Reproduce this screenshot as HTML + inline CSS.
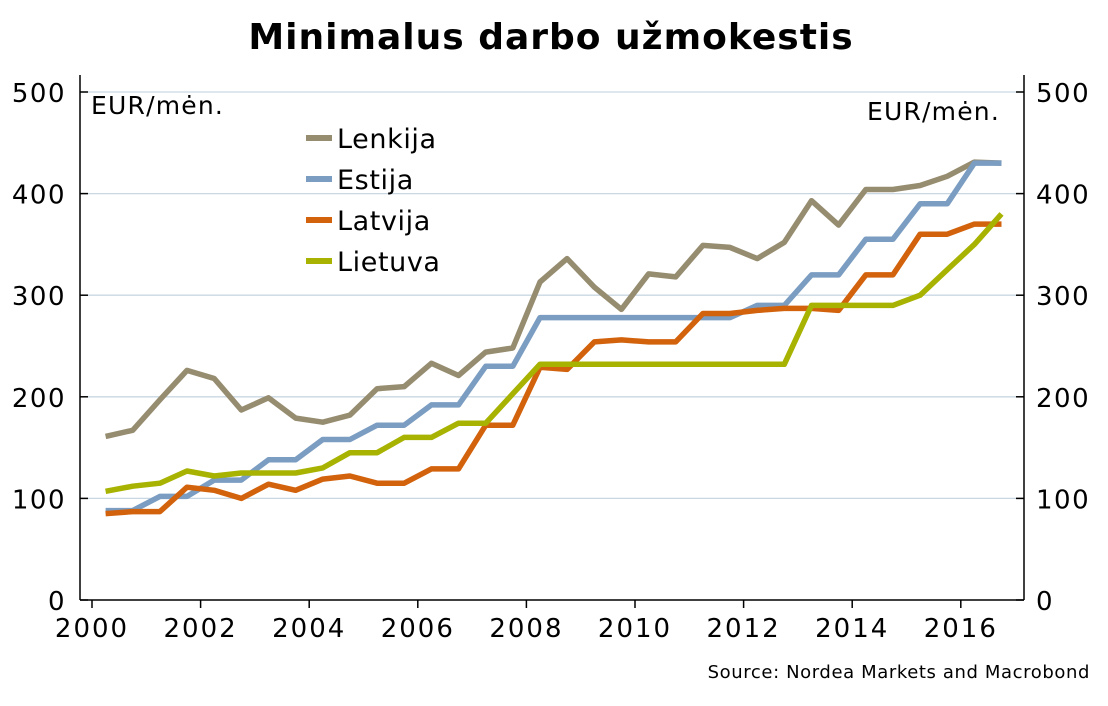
<!DOCTYPE html>
<html><head><meta charset="utf-8"><style>
body{margin:0;background:#fff;}
svg text{font-family:"DejaVu Sans","Liberation Sans",sans-serif;fill:#000;}
</style></head><body>
<svg id="chart" width="1108" height="701" viewBox="0 0 1108 701" xmlns="http://www.w3.org/2000/svg">
<text x="551" y="49" text-anchor="middle" font-size="36" font-weight="bold" letter-spacing="1">Minimalus darbo užmokestis</text>
<g id="grid"></g>
<g id="axes"></g>
<g id="series"></g>
<text x="91" y="114" font-size="25" letter-spacing="1.2">EUR/mėn.</text>
<text x="1000" y="120" text-anchor="end" font-size="25" letter-spacing="1.2">EUR/mėn.</text>
<g id="legend"></g>
<text x="1090" y="678" text-anchor="end" font-size="18" letter-spacing="0.6">Source: Nordea Markets and Macrobond</text>
</svg>
<script>
const startYear = 2000.25;
const stepYear = 0.5;
const seriesNames = ["Lenkija","Estija","Latvija","Lietuva"];
const lenkija = [161,167,197,226,218,187,199,179,175,182,208,210,233,221,244,248,313,336,308,286,321,318,349,347,336,352,393,369,404,404,408,417,431,430];
const estija = [88,88,102,102,118,118,138,138,158,158,172,172,192,192,230,230,278,278,278,278,278,278,278,278,290,290,320,320,355,355,390,390,430,430];
const latvija = [85,87,87,111,108,100,114,108,119,122,115,115,129,129,172,172,229,227,254,256,254,254,282,282,285,287,287,285,320,320,360,360,370,370];
const lietuva = [107,112,115,127,122,125,125,125,130,145,145,160,160,174,174,203,232,232,232,232,232,232,232,232,232,232,290,290,290,290,300,325,350,380];
const yTicks = [0,100,200,300,400,500];
const xTicks = [2000,2002,2004,2006,2008,2010,2012,2014,2016];
const colors = ["#968c70","#7b9dc2","#d2620c","#a7b300"];
const allSeries = [lenkija, estija, latvija, lietuva];

const NS="http://www.w3.org/2000/svg";
const X0=80, X1=1024, Y0=600, Y500=92;
const xs = yr => 92 + (yr-2000)*54.3;
const ys = v => Y0 - v*(Y0-Y500)/500;
function mk(tag, attrs, parent){const e=document.createElementNS(NS,tag);for(const k in attrs)e.setAttribute(k,attrs[k]);parent.appendChild(e);return e;}
const grid=document.getElementById('grid'), axes=document.getElementById('axes'), ser=document.getElementById('series'), leg=document.getElementById('legend');

yTicks.forEach(v=>{
  const y=ys(v);
  if(v>0){const g=mk('line',{x1:X0,x2:X1,y1:y,y2:y,stroke:'#c9d7e3','stroke-width':1.3},grid);
  
  }
  const t1=mk('line',{x1:X0,x2:X0+8,y1:y,y2:y,stroke:'#000','stroke-width':1.5},axes);
  
  
  const t2=mk('line',{x1:X1-8,x2:X1,y1:y,y2:y,stroke:'#000','stroke-width':1.5},axes);
  
  
  const l=mk('text',{x:X0-14,y:y+10,'text-anchor':'end','font-size':26,'letter-spacing':1.5},axes);l.textContent=v;
  
  
  const r=mk('text',{x:X1+12,y:y+10,'font-size':26,'letter-spacing':1.5},axes);r.textContent=v;
  
  
});
const la=mk('line',{x1:X0,x2:X0,y1:75,y2:Y0,stroke:'#000','stroke-width':1.5},axes);


const ra=mk('line',{x1:X1,x2:X1,y1:75,y2:Y0,stroke:'#000','stroke-width':1.5},axes);


const xa=mk('line',{x1:X0,x2:X1,y1:Y0,y2:Y0,stroke:'#000','stroke-width':1.5},axes);


xTicks.forEach(yr=>{
  const x=xs(yr);
  const t=mk('line',{x1:x,x2:x,y1:Y0,y2:Y0+8,stroke:'#000','stroke-width':1.5},axes);
  
  
  const l=mk('text',{x:x,y:Y0+37,'text-anchor':'middle','font-size':26,'letter-spacing':2},axes);l.textContent=yr;
  
  
});
allSeries.forEach((arr,i)=>{
  const pts=arr.map((v,j)=>xs(startYear+j*stepYear).toFixed(1)+','+ys(v).toFixed(1)).join(' ');
  const p=mk('polyline',{points:pts,fill:'none',stroke:colors[i],'stroke-width':5.5,'stroke-linejoin':'round'},ser);
  
  
  const y=138+i*41;
  const s=mk('line',{x1:306,x2:332,y1:y,y2:y,stroke:colors[i],'stroke-width':6},leg);
  
  
  const t=mk('text',{x:337,y:y+10,'font-size':27,'letter-spacing':0.6},leg);t.textContent=seriesNames[i];
  
  
});
</script>
</body></html>
